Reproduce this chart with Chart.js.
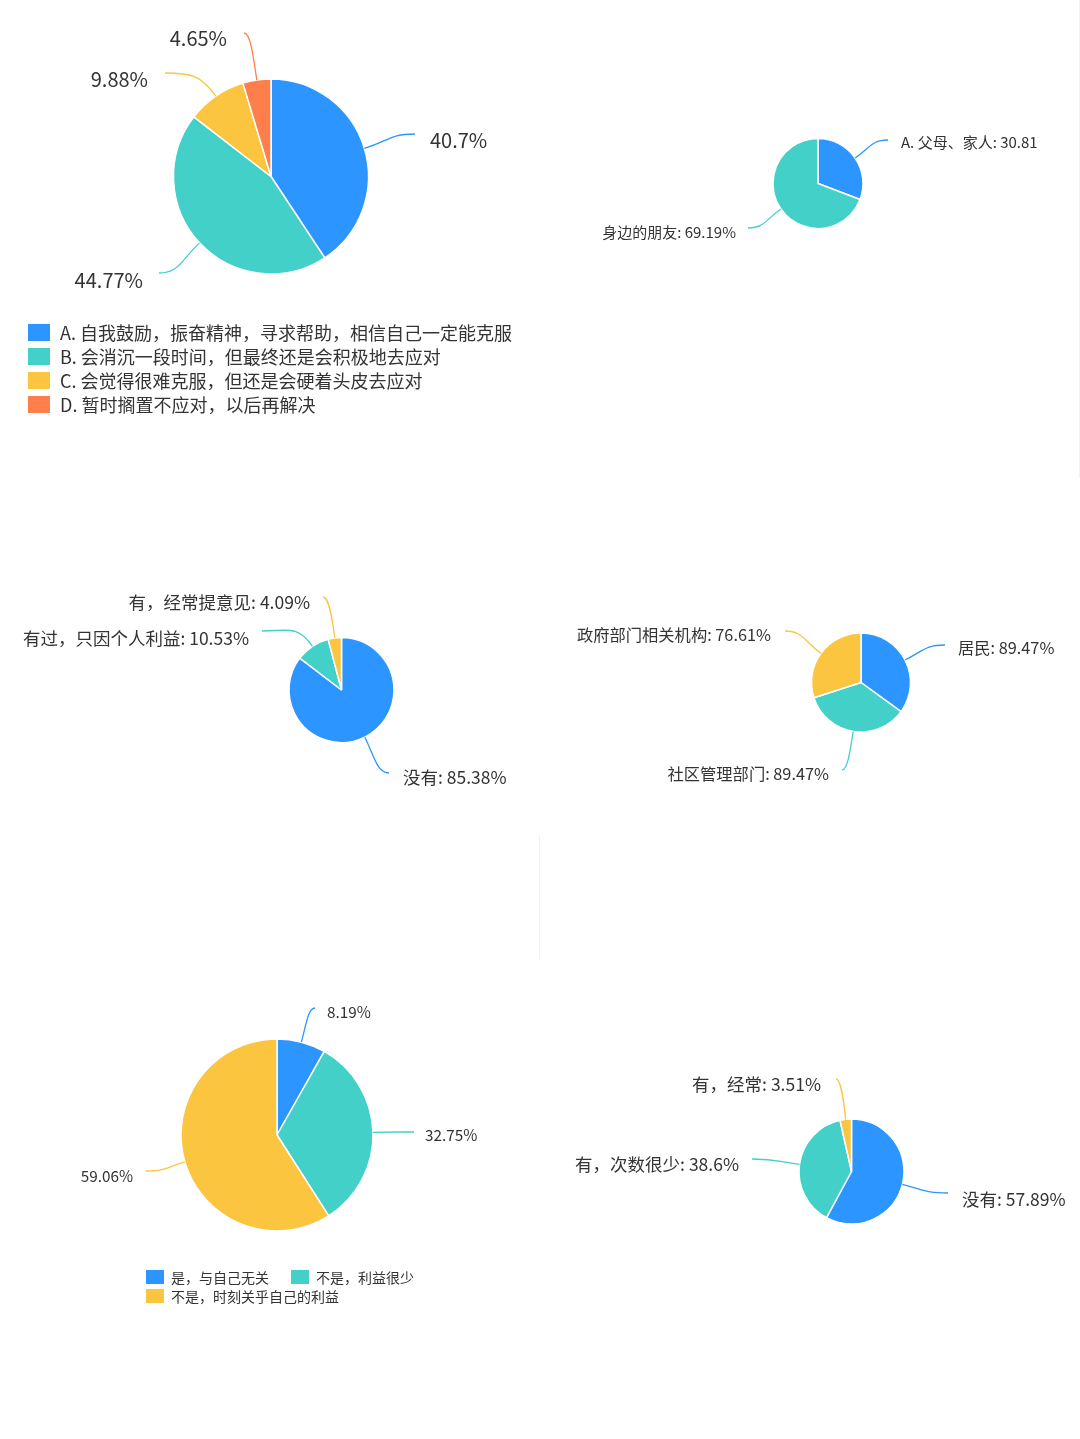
<!DOCTYPE html>
<html>
<head>
<meta charset="utf-8">
<script src="https://cdn.jsdelivr.net/npm/chart.js@4"></script>
<style>
  html, body { margin: 0; padding: 0; background: #fff; }
  #page { position: relative; width: 1080px; height: 1439px; overflow: hidden; }
  canvas { position: absolute; }
  .sep { position: absolute; width: 1px; background: #f2f2f2; }
</style>
</head>
<body>
<div id="page">
  <div class="sep" style="left:1079px; top:0; height:478px"></div>
  <div class="sep" style="left:539px; top:835px; height:123px"></div>
  <canvas id="chart1"></canvas>
  <canvas id="chart2"></canvas>
  <canvas id="chart3"></canvas>
  <canvas id="chart4"></canvas>
  <canvas id="chart5"></canvas>
  <canvas id="chart6"></canvas>
</div>
<script>
const q1Labels = [
  'A. 自我鼓励，振奋精神，寻求帮助，相信自己一定能克服',
  'B. 会消沉一段时间，但最终还是会积极地去应对',
  'C. 会觉得很难克服，但还是会硬着头皮去应对',
  'D. 暂时搁置不应对，以后再解决',
];
const q1Values = [40.7, 44.77, 9.88, 4.65];

const q2Labels = ['A. 父母、家人', '身边的朋友'];
const q2Values = [30.81, 69.19];

const q3Labels = ['没有', '有过，只因个人利益', '有，经常提意见'];
const q3Values = [85.38, 10.53, 4.09];

const q4Labels = ['居民', '社区管理部门', '政府部门相关机构'];
const q4Values = [89.47, 89.47, 76.61];

const q5Labels = ['是，与自己无关', '不是，利益很少', '不是，时刻关乎自己的利益'];
const q5Values = [8.19, 32.75, 59.06];

const q6Labels = ['没有', '有，次数很少', '有，经常'];
const q6Values = [57.89, 38.6, 3.51];

const BLUE = '#2C95FF';
const TEAL = '#43D0C9';
const YELLOW = '#FBC540';
const ORANGE = '#FE7F4B';
const TEXT = '#333333';
const FONT = '"Noto Sans CJK SC", "Noto Sans", sans-serif';

// draws leader lines, labels and (optional) legend in page coordinates
function makeLabelPlugin(cfg) {
  return {
    id: 'pieLabels',
    afterDraw(chart) {
      const ctx = chart.ctx;
      const meta = chart.getDatasetMeta(0);
      const colors = chart.data.datasets[0].backgroundColor;
      ctx.save();
      ctx.translate(-cfg.box.left, -cfg.box.top);
      const ox = cfg.box.left;
      const oy = cfg.box.top;
      meta.data.forEach((arc, i) => {
        const lab = cfg.labels[i];
        if (!lab) return;
        const mid = (arc.startAngle + arc.endAngle) / 2;
        const dx = Math.cos(mid);
        const dy = Math.sin(mid);
        const x0 = arc.x + ox + dx * arc.outerRadius;
        const y0 = arc.y + oy + dy * arc.outerRadius;
        const side = lab.tx > lab.ex ? 1 : -1;
        const dist = Math.hypot(lab.ex - x0, lab.ey - y0);
        const k1 = Math.min(dist * 0.5, 26);
        const k2 = Math.min(Math.abs(lab.ex - x0) * 0.5, 26);
        ctx.beginPath();
        ctx.moveTo(x0, y0);
        ctx.bezierCurveTo(x0 + dx * k1, y0 + dy * k1, lab.ex - side * k2, lab.ey, lab.ex, lab.ey);
        ctx.strokeStyle = colors[i];
        ctx.lineWidth = 1.3;
        ctx.stroke();

        ctx.font = cfg.fontSize + 'px ' + FONT;
        ctx.fillStyle = TEXT;
        ctx.textBaseline = 'middle';
        ctx.textAlign = side > 0 ? 'left' : 'right';
        ctx.fillText(cfg.format(chart.data.labels[i], chart.data.datasets[0].data[i]), lab.tx, lab.ty);
      });

      if (cfg.legend) {
        const lg = cfg.legend;
        ctx.font = lg.fontSize + 'px ' + FONT;
        ctx.textAlign = 'left';
        ctx.textBaseline = 'middle';
        chart.data.labels.forEach((name, i) => {
          const p = lg.items[i];
          ctx.fillStyle = colors[i];
          ctx.fillRect(p.x, p.y, lg.boxW, lg.boxH);
          ctx.fillStyle = TEXT;
          ctx.fillText(name, p.x + lg.boxW + lg.gap, p.y + lg.boxH / 2 + 0.5);
        });
      }
      ctx.restore();
    },
  };
}

function createPie(id, box, pie, labels, values, colors, plugCfg) {
  const canvas = document.getElementById(id);
  canvas.width = box.width;
  canvas.height = box.height;
  canvas.style.left = box.left + 'px';
  canvas.style.top = box.top + 'px';
  const s = pie.r + 2;
  const cx = pie.cx - box.left;
  const cy = pie.cy - box.top;
  plugCfg.box = box;
  return new Chart(canvas, {
    type: 'pie',
    data: {
      labels: labels,
      datasets: [
        {
          data: values,
          backgroundColor: colors,
          borderColor: '#ffffff',
          borderWidth: 1.5,
          radius: pie.r,
        },
      ],
    },
    options: {
      responsive: false,
      animation: false,
      events: [],
      layout: {
        padding: {
          left: cx - s,
          top: cy - s,
          right: box.width - cx - s,
          bottom: box.height - cy - s,
        },
      },
      plugins: {
        legend: { display: false },
        tooltip: { enabled: false },
      },
    },
    plugins: [makeLabelPlugin(plugCfg)],
  });
}

const pct = (name, v) => v + '%';
const namePct = (name, v) => name + ': ' + v + '%';

createPie('chart1', { left: 0, top: 0, width: 540, height: 440 },
  { cx: 271, cy: 176.5, r: 97.5 },
  q1Labels, q1Values, [BLUE, TEAL, YELLOW, ORANGE], {
    fontSize: 20,
    format: pct,
    labels: [
      { ex: 415, ey: 134, tx: 430, ty: 140 },
      { ex: 159, ey: 273, tx: 143, ty: 280 },
      { ex: 165, ey: 73, tx: 148, ty: 79 },
      { ex: 244, ey: 33, tx: 227, ty: 38 },
    ],
    legend: {
      fontSize: 18, boxW: 22, boxH: 17, gap: 10,
      items: [{ x: 28, y: 324 }, { x: 28, y: 348 }, { x: 28, y: 372 }, { x: 28, y: 396 }],
    },
  });

// right edge of this panel cuts the last "%" off, as in the original
createPie('chart2', { left: 540, top: 100, width: 498, height: 160 },
  { cx: 818, cy: 183.5, r: 45 },
  q2Labels, q2Values, [BLUE, TEAL], {
    fontSize: 15,
    format: namePct,
    labels: [
      { ex: 888, ey: 140, tx: 901, ty: 142 },
      { ex: 748, ey: 228, tx: 736, ty: 232 },
    ],
  });

createPie('chart3', { left: 0, top: 580, width: 540, height: 220 },
  { cx: 341.5, cy: 690, r: 52.5 },
  q3Labels, q3Values, [BLUE, TEAL, YELLOW], {
    fontSize: 17.5,
    format: namePct,
    labels: [
      { ex: 389, ey: 773, tx: 403, ty: 777 },
      { ex: 262, ey: 631, tx: 249, ty: 638 },
      { ex: 323, ey: 597, tx: 310, ty: 602 },
    ],
  });

createPie('chart4', { left: 540, top: 600, width: 540, height: 200 },
  { cx: 861, cy: 682.5, r: 49.5 },
  q4Labels, q4Values, [BLUE, TEAL, YELLOW], {
    fontSize: 16.3,
    format: namePct,
    labels: [
      { ex: 945, ey: 645, tx: 958, ty: 648 },
      { ex: 842, ey: 770, tx: 829, ty: 774 },
      { ex: 785, ey: 631, tx: 771, ty: 635 },
    ],
  });

createPie('chart5', { left: 0, top: 990, width: 540, height: 330 },
  { cx: 277, cy: 1135, r: 96 },
  q5Labels, q5Values, [BLUE, TEAL, YELLOW], {
    fontSize: 15.3,
    format: pct,
    labels: [
      { ex: 315, ey: 1008, tx: 327, ty: 1012 },
      { ex: 414, ey: 1132, tx: 425, ty: 1135 },
      { ex: 146, ey: 1171, tx: 133, ty: 1176 },
    ],
    legend: {
      fontSize: 14, boxW: 18, boxH: 14, gap: 7,
      items: [{ x: 146, y: 1270 }, { x: 291, y: 1270 }, { x: 146, y: 1289 }],
    },
  });

createPie('chart6', { left: 540, top: 1060, width: 540, height: 190 },
  { cx: 851.5, cy: 1171.5, r: 52.5 },
  q6Labels, q6Values, [BLUE, TEAL, YELLOW], {
    fontSize: 17.5,
    format: namePct,
    labels: [
      { ex: 948, ey: 1193, tx: 962, ty: 1199 },
      { ex: 752, ey: 1159, tx: 739, ty: 1164 },
      { ex: 836, ey: 1079, tx: 821, ty: 1084 },
    ],
  });
</script>
</body>
</html>
